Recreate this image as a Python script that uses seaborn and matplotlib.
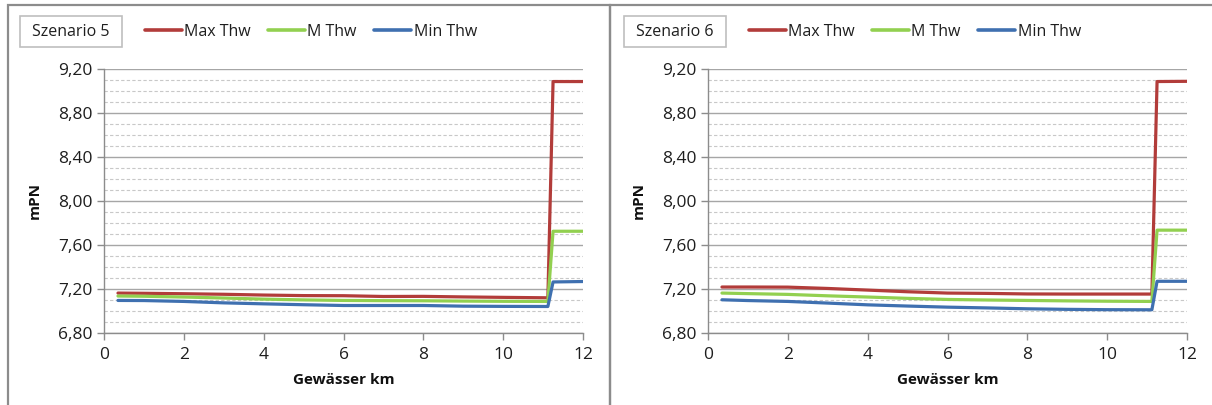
import matplotlib
matplotlib.use("Agg")
import matplotlib.pyplot as plt
import seaborn as sns
import pandas as pd
from matplotlib.patches import Rectangle
from matplotlib.ticker import MultipleLocator, FuncFormatter

# ---- data ----
km = [0.35, 1, 2, 3, 4, 5, 6, 7, 8, 9, 10, 11.12, 11.25, 12]

s5_max = [7.163, 7.161, 7.157, 7.152, 7.145, 7.140, 7.139, 7.132, 7.133, 7.128, 7.124, 7.120, 9.086, 9.086]
s5_m   = [7.136, 7.134, 7.127, 7.118, 7.108, 7.101, 7.096, 7.094, 7.093, 7.090, 7.088, 7.087, 7.725, 7.725]
s5_min = [7.096, 7.095, 7.087, 7.074, 7.065, 7.057, 7.050, 7.050, 7.050, 7.044, 7.042, 7.041, 7.264, 7.268]

s6_max = [7.218, 7.218, 7.217, 7.205, 7.190, 7.175, 7.163, 7.160, 7.155, 7.154, 7.154, 7.154, 9.086, 9.088]
s6_m   = [7.163, 7.158, 7.151, 7.138, 7.127, 7.115, 7.105, 7.100, 7.096, 7.092, 7.089, 7.087, 7.735, 7.735]
s6_min = [7.102, 7.095, 7.087, 7.072, 7.056, 7.045, 7.035, 7.028, 7.020, 7.015, 7.012, 7.011, 7.270, 7.270]

series_names = ["Max Thw", "M Thw", "Min Thw"]
scenario_titles = ["Szenario 5", "Szenario 6"]
x_ticks = [0, 2, 4, 6, 8, 10, 12]
x_label = "Gewässer km"
y_label = "mPN"

colors = {"Max Thw": "#B23C3A", "M Thw": "#92D050", "Min Thw": "#3F70B0"}

sns.set_theme(style="white")
plt.rcParams["font.family"] = ["Open Sans", "DejaVu Sans"]

W, H = 1212, 405
fig = plt.figure(figsize=(W / 100, H / 100), dpi=100)

def fx(px):
    return px / W

def fy(py):
    return 1 - py / H

# panel borders
for x0, x1 in [(8, 610), (610, 1214)]:
    fig.add_artist(Rectangle((fx(x0), fy(420)), fx(x1 - x0), (420 - 5) / H,
                             transform=fig.transFigure, fill=False,
                             edgecolor="#8C8C8C", linewidth=1.6))

scen_data = [(s5_max, s5_m, s5_min), (s6_max, s6_m, s6_min)]
offsets = [0, 604]

for i, (vals, off) in enumerate(zip(scen_data, offsets)):
    ax_left = 104 + off
    ax = fig.add_axes([fx(ax_left), fy(333), fx(479), (333 - 69) / H])
    rows = []
    for name, v in zip(series_names, vals):
        for xx, yy in zip(km, v):
            rows.append({"km": xx, "value": yy, "series": name})
    df = pd.DataFrame(rows)
    sns.lineplot(data=df, x="km", y="value", hue="series", palette=colors,
                 hue_order=series_names, sort=False, estimator=None,
                 linewidth=2.3, ax=ax, legend=False, zorder=3)

    ax.set_xlim(0, 12)
    ax.set_ylim(6.8, 9.2)
    ax.xaxis.set_major_locator(MultipleLocator(2))
    ax.yaxis.set_major_locator(MultipleLocator(0.4))
    ax.yaxis.set_minor_locator(MultipleLocator(0.1))
    ax.yaxis.set_major_formatter(FuncFormatter(lambda v, p: f"{v:.2f}".replace(".", ",")))
    ax.set_xticks(x_ticks)
    ax.set_xticklabels([str(t) for t in x_ticks])

    ax.grid(False)
    ax.grid(True, which="major", axis="y", color="#A6A6A6", linewidth=1.0, linestyle="-", zorder=0)
    ax.grid(True, which="minor", axis="y", color="#C8C8C8", linewidth=0.8, linestyle=(0, (3, 2)), zorder=0)

    for s in ["top", "right"]:
        ax.spines[s].set_visible(False)
    for s in ["left", "bottom"]:
        ax.spines[s].set_color("#8C8C8C")
        ax.spines[s].set_linewidth(1.0)

    ax.tick_params(axis="both", which="major", direction="out", length=5, width=1,
                   color="#8C8C8C", labelsize=12.5, labelcolor="#1E1E1E", pad=3, left=True, bottom=True)
    ax.tick_params(axis="y", which="minor", length=0)
    ax.tick_params(axis="x", pad=5)

    ax.set_xlabel(x_label, fontsize=11, fontweight="bold", color="#111111", labelpad=7)
    ax.set_ylabel(y_label, fontsize=11, fontweight="bold", color="#111111", labelpad=12)

    # scenario box
    bx0, bx1, by0, by1 = 20 + off, 122 + off, 16, 47
    fig.add_artist(Rectangle((fx(bx0), fy(by1)), fx(bx1 - bx0), (by1 - by0) / H,
                             transform=fig.transFigure, fill=True, facecolor="white",
                             edgecolor="#BFBFBF", linewidth=1.2))
    fig.text(fx((bx0 + bx1) / 2), fy((by0 + by1) / 2), scenario_titles[i],
             ha="center", va="center", fontsize=11.5, color="#1E1E1E")

    # legend
    handles = [plt.Line2D([], [], color=colors[n], linewidth=2.6) for n in series_names]
    leg = ax.legend(handles, series_names, loc="center left",
                    bbox_to_anchor=(fx(145 + off), fy(32)), bbox_transform=fig.transFigure,
                    ncol=3, frameon=False, fontsize=11.5, handlelength=2.3,
                    handletextpad=0.15, columnspacing=1.1, borderpad=0, borderaxespad=0)
    for t in leg.get_texts():
        t.set_color("#1E1E1E")

fig.savefig("out.png", dpi=100)
